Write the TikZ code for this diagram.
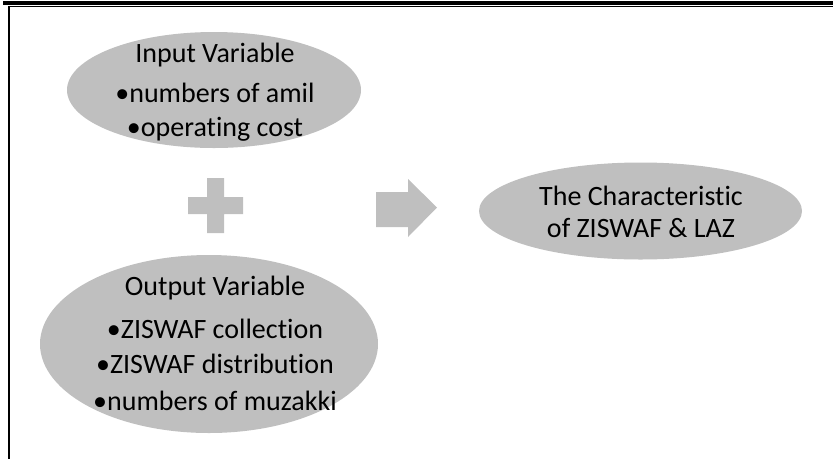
\documentclass[tikz,border=0pt]{standalone}
\usepackage{fontspec}
\setmainfont{Carlito}[Ligatures={NoCommon}]
\usetikzlibrary{shapes.geometric}
\definecolor{shapegrey}{HTML}{BFBFBF}
\tikzset{
  ellbox/.style={ellipse, fill=shapegrey, draw=none, inner sep=0pt},
  lbl/.style={anchor=base, inner sep=0pt, font=\fontsize{28}{33}\selectfont, text=black}
}
\begin{document}
\begin{tikzpicture}[x=1pt,y=-1pt]
\useasboundingbox (0,0) rectangle (833,459);
% frame
\fill[black] (3,0.8) rectangle (833,5);
\fill[black] (8,5.8) rectangle (833,7);
\fill[black] (8.3,5.8) rectangle (10.3,459);
% ellipses
\node[ellbox, minimum width=294pt, minimum height=116pt] (inell) at (214,90) {};
\node[ellbox, minimum width=338pt, minimum height=178pt] (outell) at (209,344) {};
\node[ellbox, minimum width=323pt, minimum height=97pt] (charell) at (640.5,211) {};
% plus
\fill[shapegrey] (207,178) -- (224,178) -- (224,197) -- (243,197) -- (243,214) -- (224,214) -- (224,233) -- (207,233) -- (207,214) -- (188,214) -- (188,197) -- (207,197) -- cycle;
% arrow
\fill[shapegrey] (376,192) -- (408,192) -- (408,179) -- (437,207.5) -- (408,237) -- (408,227) -- (376,227) -- cycle;
% texts
\node[lbl] (in1) at (215,62) {Input Variable};
\node[lbl] (in2) at (215,102) {•numbers of amil};
\node[lbl] (in3) at (215,136) {•operating cost};
\node[lbl] (out1) at (215,295) {Output Variable};
\node[lbl] (out2) at (215,338) {•ZISWAF collection};
\node[lbl] (out3) at (215,373) {•ZISWAF distribution};
\node[lbl] (out4) at (215,410) {•numbers of muzakki};
\node[lbl] (ch1) at (641,205) {The Characteristic};
\node[lbl] (ch2) at (641,237) {of ZISWAF \& LAZ};
\end{tikzpicture}
\end{document}
